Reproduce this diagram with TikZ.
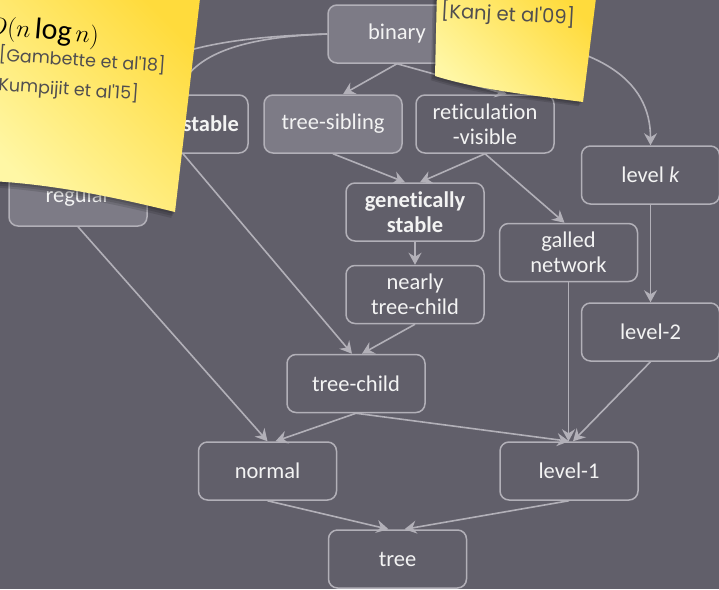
\documentclass[tikz,border=0pt]{standalone}
\usepackage{fontspec}
\setmainfont{Carlito}[Ligatures=CommonOff]
\newfontfamily\handfont{Poppins}
\usetikzlibrary{arrows.meta}
\definecolor{bgc}{RGB}{97,95,106}
\definecolor{boxlight}{RGB}{125,123,134}
\definecolor{edgec}{RGB}{178,176,184}
\definecolor{txtc}{RGB}{243,243,243}
\definecolor{noteyel}{RGB}{255,219,60}
\definecolor{notepale}{RGB}{255,247,165}
\definecolor{notetext}{RGB}{80,78,80}
\def\noteApath{(-10,-10) -- (201,-10) -- (175,212) .. controls (110,196) and (50,184) .. (-10,181) -- cycle}
\def\noteBpath{(437,-10) -- (435,76) .. controls (480,90) and (530,95) .. (583,102) -- (597,-10) -- cycle}
\begin{document}
\begin{tikzpicture}[x=1pt,y=-1pt,
  box/.style={draw=edgec, line width=1.5pt, rounded corners=9pt,
    minimum width=138pt, minimum height=58pt, text=txtc,
    font=\fontsize{22.5}{25}\selectfont, align=center, inner sep=2pt},
  lite/.style={fill=boxlight},
  dark/.style={fill=bgc},
  conn/.style={draw=edgec, line width=1.6pt,
    -{Stealth[length=12pt,width=13pt,inset=4pt]}},
  notefill/.style={top color=noteyel, bottom color=notepale, shading angle=-45},
  shadowfill/.style={fill=black, opacity=0.12},
  hand/.style={font=\handfont\fontsize{17.5}{20}\selectfont, text=notetext, inner sep=0pt}
]
\useasboundingbox (0,0) rectangle (719,589);
\clip (0,0) rectangle (719,589);
\fill[bgc] (0,0) rectangle (719,589);

% nodes
\node[box,lite] (bin) at (397,34) {binary};
\node[box,dark, minimum width=142pt, text width=124pt, align=right,
  font=\fontsize{22.5}{25}\selectfont\bfseries] (st) at (177,124) {stable};
\node[box,lite] (ts) at (333,124) {tree-sibling};
\node[box,dark] (rv) at (485,124) {reticulation\\-visible};
\node[box,dark, font=\fontsize{22.5}{25}\selectfont\bfseries] (gs) at (415,212) {genetically\\stable};
\node[box,dark] (gn) at (568.5,252.5) {galled\\network};
\node[box,dark] (lk) at (650.5,175) {level \textit{k}};
\node[box,lite] (reg) at (78,197) {regular};
\node[box,dark] (ntc) at (415,294.5) {nearly\\tree-child};
\node[box,dark] (tc) at (356,383.5) {tree-child};
\node[box,dark] (l2) at (650.5,332) {level-2};
\node[box,dark] (no) at (267.5,471) {normal};
\node[box,dark] (l1) at (569,471) {level-1};
\node[box,dark] (tr) at (397.5,559) {tree};

% connectors
\draw[conn] (bin.south) -- ([xshift=10pt]ts.north);
\draw[conn] (bin.south) -- ([xshift=22pt]rv.north);
\draw[conn] (bin.east) .. controls (600,40) and (650.5,80) .. (lk.north);
\draw[conn] (bin.west) .. controls (200,38) and (100,55) .. (reg.north);
\draw[conn] (bin.west) .. controls (240,37) and (195,55) .. (st.north);
\draw[conn] (ts.south) -- ([xshift=-10pt]gs.north);
\draw[conn] (rv.south) -- ([xshift=5pt]gs.north);
\draw[conn] (rv.south) -- ([xshift=-4pt]gn.north);
\draw[conn] (gs) -- (ntc);
\draw[conn] ([xshift=6pt]st.south) -- ([xshift=-4pt]tc.north);
\draw[conn] (ntc.south) -- ([xshift=6pt]tc.north);
\draw[conn] (reg.south) -- (no.north);
\draw[conn] (tc.south) -- ([xshift=8pt]no.north);
\draw[conn] (tc.south) -- (l1.north);
\draw[conn] (gn) -- ([xshift=-0.5pt]l1.north);
\draw[conn] (l2.south) -- ([xshift=4pt]l1.north);
\draw[conn] (lk) -- (l2);
\draw[conn] (no.south) -- ([xshift=-9pt]tr.north);
\draw[conn] (l1.south) -- ([xshift=7pt]tr.north);

% sticky note A (left)
\foreach \d in {2,4,6} {
  \begin{scope}[shift={(-\d*0.6,\d)}]
    \fill[shadowfill] \noteApath;
  \end{scope}
}
\shade[notefill] \noteApath;
\node[anchor=west, rotate=-5, inner sep=0pt, text=black,
  font=\fontsize{30}{32}\selectfont] (big) at (-12,27) {$O(n\log n)$};
\node[hand, anchor=west, rotate=-4] (c1) at (-1,54) {[Gambette et al'18]};
\node[hand, anchor=west, rotate=-4] (c2) at (-9,84) {[Kumpijit et al'15]};

% sticky note B (right)
\foreach \d in {2,4,6} {
  \begin{scope}[shift={(-\d*0.7,\d*0.7)}]
    \fill[shadowfill] \noteBpath;
  \end{scope}
}
\shade[notefill] \noteBpath;
\node[hand, anchor=west, rotate=-3, font=\handfont\fontsize{19.5}{22}\selectfont] (c3) at (441,11) {[Kanj et al'09]};
\end{tikzpicture}
\end{document}
